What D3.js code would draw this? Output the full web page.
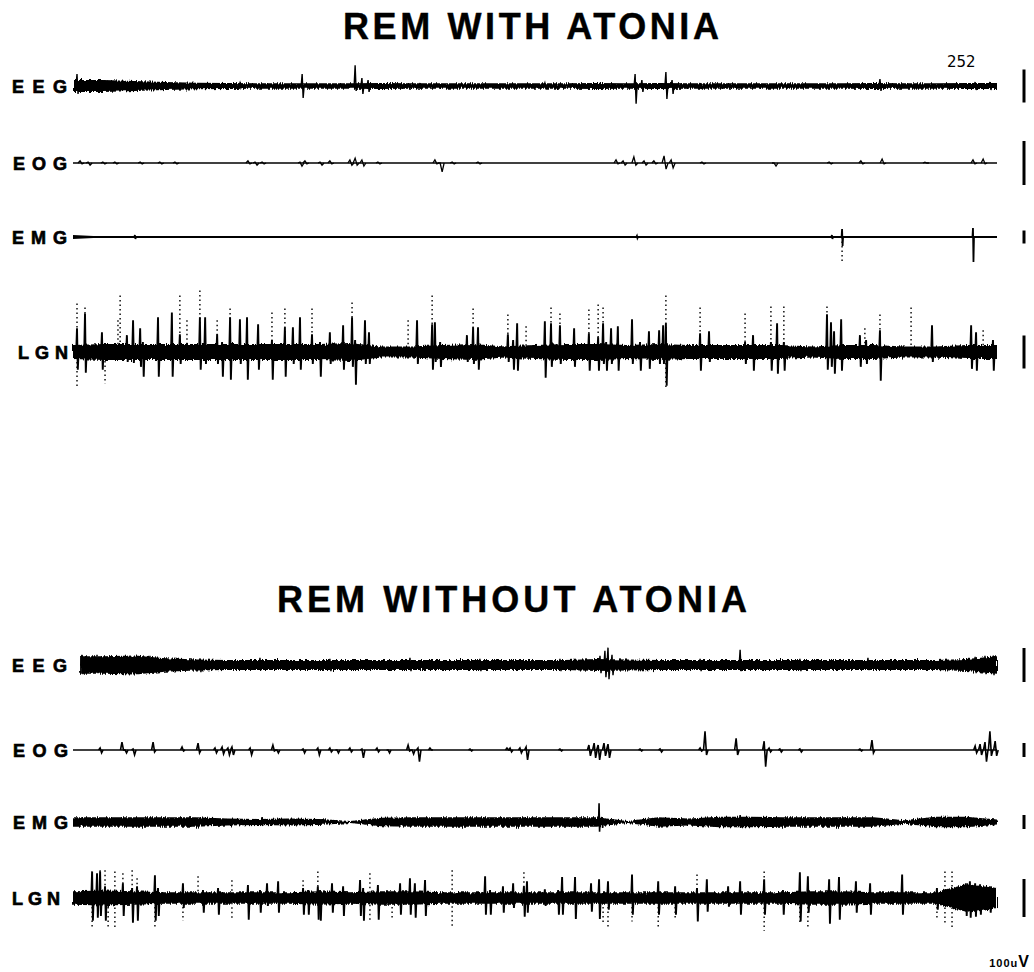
<!DOCTYPE html>
<meta charset="utf-8">
<style>
    body { margin: 0; background: #fff; }
    svg { display: block; font-family: "Liberation Sans", Arial, sans-serif; }
    .title { font-size: 36px; font-weight: bold; stroke: #000; stroke-width: 0.4; }
    .chan { font-size: 18px; font-weight: bold; stroke: #000; stroke-width: 0.7; }
    .band { fill: #000; }
    .base, .ev { fill: none; stroke: #000; }
    .faint { fill: none; stroke: #000; stroke-width: 1.4; stroke-dasharray: 1.5,3; }
    .cal { stroke: #000; stroke-width: 3; }
    .note { font-family: "DejaVu Sans", sans-serif; font-size: 15px; }
    .unit { font-weight: bold; }
</style>
<body>
<svg id="chart" width="1034" height="972">
    <defs>
        <!-- pen jitter on the dense traces -->
        <filter id="rough" filterUnits="userSpaceOnUse" x="0" y="0" width="1034" height="972">
            <feTurbulence type="fractalNoise" baseFrequency="0.8 0.06" numOctaves="2" seed="3" result="n"/>
            <feDisplacementMap in="SourceGraphic" in2="n" scale="5" xChannelSelector="R" yChannelSelector="G"/>
        </filter>
    </defs>
</svg>
<script src="https://d3js.org/d3.v7.min.js"></script>
<script>
// 30 s epoch, values in uV. bg = background half-amplitude at each second,
// ev = [time s, upward uV, downward uV], faint = pen-skip (dotted) extents
var epoch = [0, 30];
var titles = ["REM WITH ATONIA", "REM WITHOUT ATONIA"];
var channels = ["EEG", "EOG", "EMG", "LGN"];
var recordNo = "252";
var calLabel = ["100u", "V"];

// ---- REM with atonia ----
var atoEEGbg = [18,18,15,12,10,9,8,8,8,8,9,8,8,8,8,8,8,9,8,9,8,8,8,8,8,8,9,8,8,9,9];
var atoEEGev = [[0.13,36,24],[0.55,18,15],[1.2,15,12],[1.85,12,12],[3.47,9,9],[5.42,9,6],[7.44,36,36],[9.16,63,15],[9.38,24,24],[9.58,18,18],[11.27,9,9],[15.32,9,6],[17.11,9,9],[18.25,36,54],[18.47,18,18],[19.25,42,39],[19.45,18,24],[20.36,9,9],[26.2,21,15],[29.29,12,12],[29.77,12,12]];

var atoEOGev = [[0.23,5,2],[0.49,2,5],[0.97,2,2],[1.36,2,2],[2.18,2,2],[2.82,2,2],[3.31,2,2],[5.68,5,2],[5.91,2,5],[6.14,2,2],[7.37,2,7],[7.53,5,2],[8.02,2,5],[8.34,5,2],[8.99,7,5],[9.16,11,5],[9.38,7,7],[9.9,2,2],[11.75,7,2],[11.92,0,20],[12.31,2,2],[13.15,2,2],[17.63,7,2],[17.86,5,5],[18.21,14,5],[18.54,5,5],[18.86,5,2],[19.19,16,14],[19.42,7,11],[20.42,2,2],[22.76,0,7],[24.55,2,2],[25.58,5,2],[26.27,9,2],[27.66,2,0],[29.22,7,2],[29.55,9,2]];

var atoEMGbg = [15,4,3,3,3,3,3,3,3,3,3,3,3,3,3,3,3,3,3,3,3,3,3,3,3,3,3,3,3,3,3];
var atoEMGev = [[2.01,15,15],[18.31,8,8],[24.64,15,15],[24.97,62,69],[29.22,69,193]];
var atoEMGfaint = [[24.97,0,208]];

var atoLGNbg = [21,24,24,24,24,24,24,24,24,27,17,17,21,24,17,21,24,24,21,24,21,21,21,21,17,21,21,17,17,21,21];
var atoLGNev = [[0.13,72,54],[0.39,117,63],[0.94,60,54],[1.75,51,30],[1.95,96,33],[2.18,72,45],[2.27,30,75],[2.76,105,75],[3.21,120,75],[3.47,54,36],[4.12,105,54],[4.29,105,36],[4.68,54,36],[4.84,30,75],[5.10,105,84],[5.42,99,36],[5.65,105,84],[6.01,84,54],[6.46,36,84],[6.88,75,75],[7.14,75,36],[7.37,105,54],[7.76,54,36],[8.02,30,75],[8.34,60,36],[8.77,81,54],[9.06,105,45],[9.16,36,99],[9.48,96,36],[9.61,60,36],[11.17,96,36],[11.66,84,54],[11.75,90,30],[11.92,30,45],[12.79,51,30],[12.99,75,36],[13.15,75,54],[14.12,54,30],[14.29,36,54],[14.42,87,57],[15.32,93,78],[15.52,87,45],[15.81,81,36],[16.27,72,45],[16.75,57,57],[17.05,45,57],[17.21,87,36],[17.31,30,57],[17.47,72,36],[17.69,78,57],[18.15,99,36],[18.41,30,57],[18.70,63,51],[19.03,66,36],[19.16,81,36],[19.25,87,102],[20.36,57,57],[20.65,63,30],[21.82,30,36],[22.08,51,57],[22.66,30,57],[22.86,87,66],[23.08,30,57],[24.48,114,54],[24.61,90,45],[24.71,63,66],[24.94,99,57],[25.55,51,45],[25.75,36,36],[26.20,66,87],[27.89,81,30],[29.16,81,51],[29.32,60,57],[29.87,36,57]];
var atoLGNfaint = [[0.13,147,108],[0.39,135,0],[1.04,0,96],[1.46,96,0],[1.53,171,0],[3.47,171,0],[3.70,96,0],[4.12,186,0],[4.68,96,0],[5.10,132,0],[6.46,120,0],[6.88,132,0],[7.76,132,0],[9.06,150,0],[10.88,96,0],[11.66,171,0],[12.99,132,0],[14.12,114,0],[14.71,78,0],[15.52,135,0],[15.81,117,0],[16.75,129,0],[17.05,144,0],[17.21,135,0],[19.25,171,114],[20.36,135,0],[21.82,117,0],[22.66,138,0],[23.08,138,0],[24.48,138,0],[25.71,72,0],[26.20,114,0],[27.21,135,0],[29.55,66,0]];

// ---- REM without atonia ----
var woEEGbg = [26,26,28,20,16,15,15,15,15,15,15,15,15,15,15,15,15,18,16,15,15,15,15,15,15,15,15,15,15,18,26];
var woEEGev = [[0.29,30,27],[0.78,30,24],[2.18,24,24],[2.5,27,21],[4.12,18,21],[6.07,21,15],[8.34,18,18],[10.94,21,18],[13.21,18,18],[15.81,18,18],[17.11,27,24],[17.27,42,36],[17.37,51,42],[17.5,30,30],[20.36,18,18],[21.66,45,18],[23.6,18,18],[25.81,21,15],[29.29,24,24],[29.61,27,27],[29.87,27,30]];

var woEOGev = [[0.88,14,21],[1.59,56,0],[1.69,0,21],[1.95,7,35],[2.60,56,14],[3.54,21,7],[4.06,49,21],[4.61,14,21],[4.84,21,28],[5.03,14,35],[5.16,21,35],[5.75,14,35],[6.49,35,7],[6.62,0,21],[7.47,7,21],[7.95,14,35],[8.34,14,14],[8.57,0,21],[8.99,14,14],[9.38,7,56],[9.87,14,14],[10.23,0,21],[10.88,35,7],[11.01,0,28],[11.2,14,84],[11.59,14,0],[12.89,7,7],[14.09,14,0],[14.19,14,14],[14.51,14,21],[14.71,21,70],[15.81,7,7],[16.75,35,42],[16.92,49,56],[17.05,35,70],[17.24,49,42],[17.37,42,56],[18.41,7,7],[19.06,7,14],[20.36,14,7],[20.52,133,35],[21.53,84,35],[22.44,63,119],[22.60,14,14],[22.95,7,14],[23.60,7,14],[25.55,7,7],[25.94,70,21],[29.29,28,21],[29.45,42,35],[29.61,56,84],[29.77,133,42],[29.94,63,42]];

var woEMGbg = [34,34,34,34,34,25,22,25,22,8,30,34,34,34,34,34,34,34,8,34,25,38,38,34,34,34,34,12,38,38,17];
var woEMGev = [[3.8,42,35],[6.14,35,28],[17.08,133,70],[17.18,35,42],[21.66,49,42],[29.87,28,28]];

var woLGNbg = [18,20,18,15,15,15,15,15,18,15,18,18,15,15,15,15,15,15,15,15,15,15,15,15,18,18,15,15,15,36,26];
var woLGNev = [[0.62,70,60],[0.78,65,52],[0.88,70,47],[1.04,31,60],[1.62,39,47],[1.92,26,65],[2.08,31,60],[2.66,60,60],[2.76,26,47],[3.57,39,26],[4.22,21,39],[4.71,26,44],[5.68,34,57],[6.07,21,39],[6.30,39,21],[6.66,44,39],[7.47,26,44],[7.63,21,44],[7.95,31,57],[8.02,21,60],[8.41,39,39],[8.77,31,47],[9.32,47,47],[9.42,26,60],[9.90,34,57],[10.62,39,44],[10.94,52,44],[11.10,39,52],[11.43,47,47],[13.38,57,44],[13.54,21,44],[13.96,31,39],[14.29,39,26],[14.64,31,49],[14.74,44,39],[15.32,23,21],[15.75,21,44],[15.88,55,44],[16.30,55,55],[16.82,39,36],[17.08,49,55],[17.37,44,31],[18.15,62,44],[19.0,44,44],[19.55,31,44],[20.26,26,62],[20.58,49,36],[21.27,31,23],[21.66,44,44],[22.44,49,44],[23.05,21,44],[23.60,68,62],[23.86,57,39],[24.55,49,68],[24.87,55,57],[25.42,44,39],[25.88,39,44],[26.92,62,44],[28.05,26,31],[28.99,39,47],[29.12,44,52],[29.29,39,49],[29.45,36,44],[29.77,31,39]];
var woLGNfaint = [[0.62,0,83],[0.88,73,0],[1.04,73,0],[1.14,0,83],[1.36,70,83],[1.62,65,0],[1.92,73,0],[2.08,52,0],[2.66,0,83],[3.57,0,60],[4.06,57,0],[5.16,47,57],[7.47,47,0],[7.95,70,0],[9.64,65,65],[10.36,0,57],[12.31,73,73],[14.64,68,0],[17.21,0,68],[17.37,0,75],[18.15,0,62],[19.0,0,75],[19.55,0,55],[20.26,62,0],[22.44,70,86],[23.60,0,70],[23.86,0,75],[28.05,0,57],[28.31,70,65],[28.54,70,81]];

// layout of the two panels (gain = px per 100 uV, w = half width of a deflection in px)
var panels = [
    { title: titles[0], tx: 343, ty: 39, tw: 376, rows: [
        { y: 86,  gain: 33, bg: atoEEGbg, ev: atoEEGev, w: 1,   lw: 1.4, lx: 12, ll: 55, rough: true },
        { y: 163, gain: 44, bg: null,     ev: atoEOGev, w: 2,   lw: 1.3, lx: 13, ll: 54 },
        { y: 237, gain: 13, bg: atoEMGbg, ev: atoEMGev, faint: atoEMGfaint, w: 0.5, lw: 1.8, lx: 12, ll: 55 },
        { y: 352, gain: 33, bg: atoLGNbg, ev: atoLGNev, faint: atoLGNfaint, w: 0.8, lw: 1.9, lx: 18, ll: 50, rough: true }
    ]},
    { title: titles[1], tx: 277, ty: 612, tw: 470, rows: [
        { y: 665, gain: 34, bg: woEEGbg, ev: woEEGev, w: 1,   lw: 1.4, lx: 12, ll: 55, from: 0.23, rough: true },
        { y: 750, gain: 14, bg: null,    ev: woEOGev, w: 1.5, lw: 1.6, lx: 13, ll: 55 },
        { y: 822, gain: 14, bg: woEMGbg, ev: woEMGev, w: 0.5, lw: 1.6, lx: 13, ll: 55, rough: true },
        { y: 898, gain: 38, bg: woLGNbg, ev: woLGNev, faint: woLGNfaint, w: 0.8, lw: 1.9, lx: 12, ll: 48, rough: true }
    ]}
];

var x = d3.scaleLinear().domain(epoch).range([73, 997]);
var pxT = x.invert(x(0) + 1) - epoch[0];   // one pixel in seconds
var svg = d3.select("#chart");

panels.forEach(function(p) {
    svg.append("text")
        .attr("class", "title")
        .attr("x", p.tx).attr("y", p.ty)
        .attr("textLength", p.tw).attr("lengthAdjust", "spacing")
        .text(p.title);

    p.rows.forEach(function(r, k) {
        var y = d3.scaleLinear().domain([-100, 100]).range([r.y + r.gain, r.y - r.gain]);
        var t0 = r.from || epoch[0];
        var g = svg.append("g");

        g.append("text")
            .attr("class", "chan")
            .attr("x", r.lx).attr("y", r.y + 6.5)
            .attr("textLength", r.ll).attr("lengthAdjust", "spacing")
            .text(channels[k]);

        var trace = g.append("g");
        if (r.rough) trace.attr("filter", "url(#rough)");

        if (r.bg) {
            var band = d3.area()
                .x(function(d, i) { return x(Math.max(i, t0)); })
                .y0(function(d) { return y(-d); })
                .y1(function(d) { return y(d); });
            trace.append("path").attr("class", "band").attr("d", band(r.bg));
        }

        trace.append("path")
            .attr("class", "base")
            .attr("stroke-width", r.lw)
            .attr("d", d3.line()([[x(t0), y(0)], [x(epoch[1]), y(0)]]));

        if (r.faint) {
            g.selectAll("line.faint")
                .data(r.faint)
                .enter().append("line")
                .attr("class", "faint")
                .attr("x1", function(d) { return x(d[0]); })
                .attr("x2", function(d) { return x(d[0]); })
                .attr("y1", function(d) { return y(d[1]); })
                .attr("y2", function(d) { return y(-d[2]); });
        }

        var dt = pxT * r.w;
        var wave = d3.line()
            .x(function(d) { return x(d[0]); })
            .y(function(d) { return y(d[1]); });
        g.selectAll("path.ev")
            .data(r.ev)
            .enter().append("path")
            .attr("class", "ev")
            .attr("stroke-width", r.lw)
            .attr("d", function(d) {
                return wave([[d[0] - dt, 0], [d[0], d[1]], [d[0] + dt, -d[2]], [d[0] + 2 * dt, 0]]);
            });

        // 100 uV calibration mark
        g.append("line")
            .attr("class", "cal")
            .attr("x1", 1024).attr("x2", 1024)
            .attr("y1", y(-50)).attr("y2", y(50));
    });
});

svg.append("text").attr("class", "note").attr("x", 947).attr("y", 67).text(recordNo);

var cal = svg.append("text").attr("class", "unit").attr("x", 1029).attr("y", 967).attr("text-anchor", "end");
cal.append("tspan").style("font-size", "11px").attr("letter-spacing", "1").text(calLabel[0]);
cal.append("tspan").style("font-size", "16px").text(calLabel[1]);
</script>
</body>
